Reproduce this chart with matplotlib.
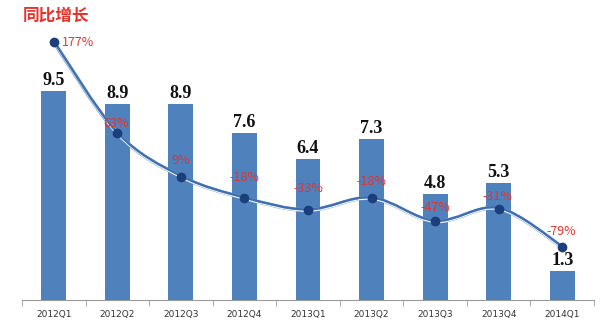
import matplotlib
matplotlib.use("Agg")
import matplotlib.pyplot as plt
import matplotlib.patheffects as pe
from matplotlib.path import Path
from matplotlib.patches import PathPatch
import numpy as np

plt.rcParams['font.family'] = ['Noto Sans CJK SC', 'DejaVu Sans']

categories = ["2012Q1", "2012Q2", "2012Q3", "2012Q4", "2013Q1", "2013Q2", "2013Q3", "2013Q4", "2014Q1"]
values = [9.5, 8.9, 8.9, 7.6, 6.4, 7.3, 4.8, 5.3, 1.3]
growth = [177, 63, 9, -18, -33, -18, -47, -31, -79]
growth_labels = ["177%", "63%", "9%", "-18%", "-33%", "-18%", "-47%", "-31%", "-79%"]
title = "同比增长"

W, H = 600, 336
fig = plt.figure(figsize=(W / 100, H / 100), dpi=100)
ax = fig.add_axes([22 / W, 1 - 300 / H, 572 / W, 270 / H])
x = np.arange(len(categories))
ax.bar(x, values, width=0.39, color="#4f81bd", zorder=2)
ax.set_xlim(-0.5, len(categories) - 0.5)
ax.set_ylim(0, 270 / 22)

for xi, v in zip(x, values):
    ax.annotate(f"{v}", (xi, v), xytext=(0, 1.5), textcoords="offset points",
                ha="center", va="bottom", fontsize=13, fontweight="bold",
                family="Liberation Serif", color="#111111")

for s in ["top", "right", "left"]:
    ax.spines[s].set_visible(False)
ax.spines["bottom"].set_color("#9a9a9a")
ax.set_yticks([])
ax.set_xticks(x)
ax.set_xticklabels(categories, fontsize=6.5, color="#333333", family="DejaVu Sans")
ax.tick_params(axis="x", length=0, pad=7)
ax.set_xticks(np.arange(-0.5, len(categories), 1.0), minor=True)
ax.tick_params(axis="x", which="minor", length=4, color="#9a9a9a", direction="out")

ax2 = ax.twinx()
ax2.set_ylim(-79 - 53 / 0.8, 177 + 12 / 0.8)

# smoothed line (cubic Bezier segments through the data points)
xs = np.asarray(x, dtype=float)
ys = np.asarray(growth, dtype=float)
n = len(xs)
verts = [(xs[0], ys[0])]
codes = [Path.MOVETO]
for i in range(n - 1):
    p0 = (xs[i - 1], ys[i - 1]) if i > 0 else (xs[i], ys[i])
    p1 = (xs[i], ys[i])
    p2 = (xs[i + 1], ys[i + 1])
    p3 = (xs[i + 2], ys[i + 2]) if i + 2 < n else p2
    c1 = (p1[0] + (p2[0] - p0[0]) / 6, p1[1] + (p2[1] - p0[1]) / 6)
    c2 = (p2[0] - (p3[0] - p1[0]) / 6, p2[1] - (p3[1] - p1[1]) / 6)
    verts += [c1, c2, p2]
    codes += [Path.CURVE4] * 3
path = Path(verts, codes)
patch = PathPatch(path, facecolor="none", edgecolor="#4a7ab8", lw=1.8, zorder=3,
                  path_effects=[pe.Stroke(linewidth=2.8, foreground="#7fa3d1"),
                                pe.Stroke(offset=(0, -0.8), linewidth=0.7, foreground="white"),
                                pe.Stroke(offset=(0, 0.5), linewidth=1.6, foreground="#3f6fb0")])
ax2.add_patch(patch)
ax2.plot(x, growth, "o", color="#1a3f7c", ms=6, zorder=4)
ax2.set_yticks([])
for s in ["top", "right", "left", "bottom"]:
    ax2.spines[s].set_visible(False)

# label offsets in pixels (dx, dy up)
offsets = [(8, 0, "left"), (-1, 10, "center"), (0, 16, "center"),
           (0, 21, "center"), (0, 22, "center"), (0, 17, "center"),
           (0, 14, "center"), (-1, 12, "center"), (-1, 15, "center")]
for xi, g, lab, (dx, dy, ha) in zip(x, growth, growth_labels, offsets):
    ax2.annotate(lab, (xi, g), xytext=(dx * 0.72, dy * 0.72), textcoords="offset points",
                 ha=ha, va="center", fontsize=9, color="#e8322b", zorder=5)

fig.text(23 / W, 1 - 16 / H, title, fontsize=12, fontweight="bold", color="#e8322b",
         ha="left", va="center")

fig.savefig("out.png", dpi=100)
